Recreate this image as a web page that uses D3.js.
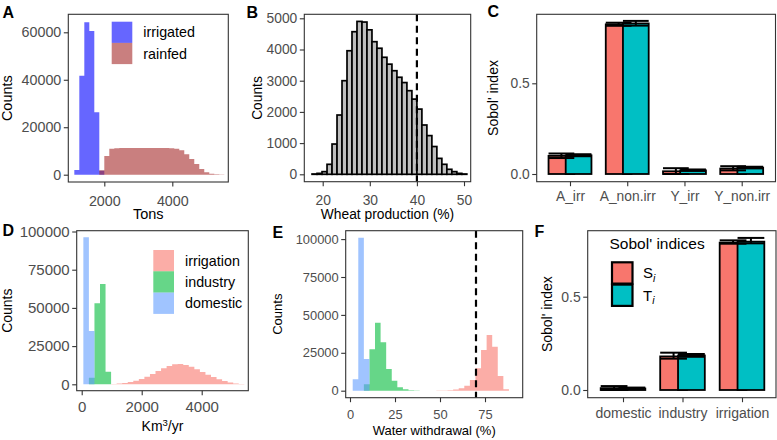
<!DOCTYPE html>
<html>
<head>
<meta charset="utf-8">
<script src="https://cdn.jsdelivr.net/npm/d3@7"></script>
<style>
  body { margin: 0; background: #fff; }
  svg { display: block; font-family: "Liberation Sans", Arial, Helvetica, sans-serif; }
</style>
</head>
<body>
<svg id="fig" width="777" height="440"></svg>
<script>
'use strict';

// ---- A: yield histogram (Tons), 30 bins of 147 starting at 1118
const A_BIN_START = 1118, A_BIN_WIDTH = 147;
const aIrrigated = [2000, 41700, 64200, 60600, 26300, 1700, 0, 0, 0, 0, 0, 0, 0, 0, 0,
                    0, 0, 0, 0, 0, 0, 0, 0, 0, 0, 0, 0, 0, 0, 0];
const aRainfed = [0, 0, 0, 0, 0, 1900, 7900, 10900, 11100, 11200, 11200, 11200, 11200, 11200, 11200,
                  11200, 11200, 11200, 11200, 11100, 10900, 10300, 8600, 6600, 4500, 2400, 1000, 400, 150, 50];
const aGroups = ['irrigated', 'rainfed'];

// ---- B: wheat production (%), 31 bins of 1.06 starting at 17.74
const B_BIN_START = 17.74, B_BIN_WIDTH = 1.06;
const bCounts = [10, 30, 85, 320, 970, 1900, 3000, 3960, 4570, 4900, 4880, 4630, 4250, 4040, 3750, 3530,
                 3320, 3110, 2940, 2680, 2410, 2090, 1580, 1240, 890, 510, 320, 160, 85, 30, 10];
const bThreshold = 40;

// ---- C: Sobol' indices of production
const cCats = ['A_irr', 'A_non.irr', 'Y_irr', 'Y_non.irr'];
const cSi = [0.100, 0.825, 0.015, 0.030];
const cSiLow = [0.088, 0.817, 0.000, 0.020];
const cSiHigh = [0.113, 0.834, 0.032, 0.043];
const cTi = [0.103, 0.830, 0.020, 0.035];
const cTiLow = [0.098, 0.818, 0.017, 0.031];
const cTiHigh = [0.109, 0.844, 0.025, 0.040];

// ---- D: water withdrawal (Km3/yr), 30 bins of 185 starting at 55
const D_BIN_START = 55, D_BIN_WIDTH = 185;
const dIrrigation = [0, 0, 0, 0, 0, 250, 500, 900, 1500, 2300, 3500, 5000, 6800, 8700, 10500,
                     12000, 13100, 13300, 12700, 11500, 9900, 8100, 6300, 4700, 3300, 2100, 1200, 600, 250, 100];
const dIndustry = [0, 4300, 53000, 65600, 8250, 0, 0, 0, 0, 0, 0, 0, 0, 0, 0,
                   0, 0, 0, 0, 0, 0, 0, 0, 0, 0, 0, 0, 0, 0, 0];
const dDomestic = [96200, 34900, 0, 0, 0, 0, 0, 0, 0, 0, 0, 0, 0, 0, 0,
                   0, 0, 0, 0, 0, 0, 0, 0, 0, 0, 0, 0, 0, 0, 0];
const sectors = ['irrigation', 'industry', 'domestic'];

// ---- E: water withdrawal (%), 28 bins of 3.1 starting at 1.5
const E_BIN_START = 1.5, E_BIN_WIDTH = 3.1;
const eIrrigation = [0, 0, 0, 0, 0, 0, 0, 0, 0, 0, 0, 0, 0, 20, 40,
                     80, 120, 350, 800, 1600, 3300, 7000, 14800, 26900, 36700, 29000, 9700, 900];
const eIndustry = [0, 0, 4200, 27300, 44900, 31900, 14300, 6600, 2200, 900, 300, 100, 40, 0, 0,
                   0, 0, 0, 0, 0, 0, 0, 0, 0, 0, 0, 0, 0];
const eDomestic = [7500, 100900, 20900, 0, 0, 0, 0, 0, 0, 0, 0, 0, 0, 0, 0,
                   0, 0, 0, 0, 0, 0, 0, 0, 0, 0, 0, 0, 0];
const eThreshold = 70;

// ---- F: Sobol' indices of water withdrawal
const fCats = ['domestic', 'industry', 'irrigation'];
const fSi = [0.010, 0.180, 0.790];
const fSiLow = [0.000, 0.168, 0.784];
const fSiHigh = [0.021, 0.200, 0.802];
const fTi = [0.008, 0.185, 0.795];
const fTiLow = [0.004, 0.178, 0.786];
const fTiHigh = [0.013, 0.193, 0.815];

(function () {
  const svg = d3.select('#fig');
  const TICK = 4.5;
  const TICK_GREY = '#4d4d4d';
  const FRAME = '#333333';
  const COL = {
    irrigated: '#0000ff', rainfed: '#a52a2a',
    irrigation: '#f8766d', industry: '#00ba38', domestic: '#619cff',
    si: '#f8766d', ti: '#00bfc4'
  };
  const HIST_ALPHA = 0.6;

  function makePanel(cfg) {
    const g = svg.append('g');
    const [x0, y0, x1, y1] = cfg.box;
    svg.append('clipPath').attr('id', 'clip-' + cfg.tag)
      .append('rect').attr('x', x0).attr('y', y0).attr('width', x1 - x0).attr('height', y1 - y0);
    const plot = g.append('g').attr('clip-path', `url(#clip-${cfg.tag})`);
    const y = d3.scaleLinear().domain(cfg.yDom).range(cfg.yRng);
    let x;
    if (cfg.cats) {
      x = d3.scalePoint().domain(cfg.cats).range(cfg.xRng);
    } else {
      x = d3.scaleLinear().domain(cfg.xDom).range(cfg.xRng);
    }
    return { cfg, g, plot, x, y };
  }

  function finishPanel(P) {
    const c = P.cfg;
    const [x0, y0, x1, y1] = c.box;

    const yAx = d3.axisLeft(P.y).tickValues(c.yTicks).tickFormat(c.yFmt)
      .tickSize(TICK).tickPadding(2.5);
    const gy = P.g.append('g').attr('transform', `translate(${x0},0)`).call(yAx);

    const xPad = c.xBase - y1 - TICK - 0.71 * c.tickFs;
    const xAx = d3.axisBottom(P.x).tickSize(TICK).tickPadding(xPad);
    if (c.xTicks) xAx.tickValues(c.xTicks).tickFormat(d3.format('d'));
    const gx = P.g.append('g').attr('transform', `translate(0,${y1})`).call(xAx);

    [gy, gx].forEach(a => {
      a.select('.domain').remove();
      a.attr('font-family', null).attr('font-size', c.tickFs);
      a.selectAll('line').attr('stroke', FRAME).attr('stroke-width', 1.1);
      a.selectAll('text').attr('fill', TICK_GREY);
    });

    P.g.append('rect')
      .attr('x', x0).attr('y', y0).attr('width', x1 - x0).attr('height', y1 - y0)
      .attr('fill', 'none').attr('stroke', FRAME).attr('stroke-width', 1.1);

    // y title
    P.g.append('text')
      .attr('transform', `translate(${c.yTitleX},${(y0 + y1) / 2}) rotate(-90)`)
      .attr('text-anchor', 'middle').attr('font-size', c.titleFs)
      .text(c.yTitle);

    // x title
    if (c.xTitle) {
      const t = P.g.append('text')
        .attr('x', (x0 + x1) / 2).attr('y', c.xTitleY)
        .attr('text-anchor', 'middle').attr('font-size', c.titleFs);
      c.xTitle(t);
    }

    // panel tag
    P.g.append('text')
      .attr('x', c.tagPos[0]).attr('y', c.tagPos[1])
      .attr('font-size', 16).attr('font-weight', 'bold')
      .text(c.tag);
  }

  // one stepped area per group, so neighbouring bins show no seams
  function histogram(P, counts, start, width, color) {
    const pts = counts.map((n, i) => ({ x: start + i * width, n }));
    pts.push({ x: start + counts.length * width, n: counts[counts.length - 1] });
    const area = d3.area()
      .curve(d3.curveStepAfter)
      .x(d => P.x(d.x))
      .y0(P.y(0))
      .y1(d => P.y(d.n));
    P.plot.append('path')
      .datum(pts)
      .attr('d', area)
      .attr('fill', color)
      .attr('fill-opacity', HIST_ALPHA);
  }

  function histLegend(P, items, kx, ky, kw, kh, fs) {
    const lg = P.g.append('g');
    items.forEach((name, i) => {
      lg.append('rect')
        .attr('x', kx).attr('y', ky + i * kh).attr('width', kw).attr('height', kh)
        .attr('fill', COL[name]).attr('fill-opacity', HIST_ALPHA);
      lg.append('text')
        .attr('x', kx + kw + 11).attr('y', ky + i * kh + kh / 2)
        .attr('dy', '0.35em').attr('font-size', fs)
        .text(name);
    });
  }

  function dashedLine(P, v) {
    P.plot.append('line')
      .attr('x1', P.x(v)).attr('x2', P.x(v))
      .attr('y1', P.cfg.box[1]).attr('y2', P.cfg.box[3])
      .attr('stroke', '#000').attr('stroke-width', 2.2)
      .attr('stroke-dasharray', '7,4.5');
  }

  function sobolBars(P, cats, si, siLo, siHi, ti, tiLo, tiHi) {
    const step = P.x.step();
    const bw = 0.45 * step;
    const off = 0.15 * step;
    const groups = [
      { key: 'si', val: si, lo: siLo, hi: siHi, dx: -off },
      { key: 'ti', val: ti, lo: tiLo, hi: tiHi, dx: off }
    ];
    groups.forEach(gr => {
      P.g.append('g').selectAll('rect')
        .data(cats.map((c, i) => ({ c, v: gr.val[i] })))
        .join('rect')
        .attr('x', d => P.x(d.c) + gr.dx - bw / 2)
        .attr('width', bw)
        .attr('y', d => P.y(d.v))
        .attr('height', d => P.y(0) - P.y(d.v))
        .attr('fill', COL[gr.key])
        .attr('stroke', '#000').attr('stroke-width', 1.8);
    });
    groups.forEach(gr => {
      const eg = P.g.append('g').attr('stroke', '#000').attr('stroke-width', 2);
      cats.forEach((c, i) => {
        const cx = P.x(c) + gr.dx;
        const yl = P.y(gr.lo[i]), yh = P.y(gr.hi[i]);
        eg.append('line').attr('x1', cx - bw / 2).attr('x2', cx + bw / 2).attr('y1', yh).attr('y2', yh);
        eg.append('line').attr('x1', cx - bw / 2).attr('x2', cx + bw / 2).attr('y1', yl).attr('y2', yl);
        eg.append('line').attr('x1', cx).attr('x2', cx).attr('y1', yl).attr('y2', yh);
      });
    });
  }

  const fmtInt = d3.format('d');
  const fmt1 = d3.format('.1f');
  const countTicks = [0, 25000, 50000, 75000, 100000];

  // ---------- A
  const A = makePanel({
    tag: 'A', box: [68.3, 14.3, 228.3, 182],
    xDom: [2000, 4000], xRng: [104.3, 172.3], yDom: [0, 60000], yRng: [174.7, 32.3],
    xTicks: [2000, 4000], yTicks: [0, 20000, 40000, 60000], yFmt: fmtInt,
    tickFs: 14.3, titleFs: 14.5, xBase: 205.5, yTitle: 'Counts', yTitleX: 12,
    xTitle: t => t.text('Tons'), xTitleY: 219, tagPos: [2.5, 18.3]
  });
  histogram(A, aIrrigated, A_BIN_START, A_BIN_WIDTH, COL.irrigated);
  histogram(A, aRainfed, A_BIN_START, A_BIN_WIDTH, COL.rainfed);
  finishPanel(A);
  histLegend(A, aGroups, 111.7, 21.7, 20.6, 21.2, 14.3);

  // ---------- B
  const B = makePanel({
    tag: 'B', box: [304.3, 14.3, 470.7, 181.7],
    xDom: [20, 50], xRng: [322.7, 464], yDom: [0, 5000], yRng: [174.3, 18.3],
    xTicks: [20, 30, 40, 50], yTicks: [0, 1000, 2000, 3000, 4000, 5000], yFmt: fmtInt,
    tickFs: 13.8, titleFs: 13.8, xBase: 205.5, yTitle: 'Counts', yTitleX: 261.5,
    xTitle: t => t.text('Wheat production (%)'), xTitleY: 219, tagPos: [246.5, 18.3]
  });
  B.plot.append('g').selectAll('rect')
    .data(bCounts.map((n, i) => ({ lo: B_BIN_START + i * B_BIN_WIDTH, hi: B_BIN_START + (i + 1) * B_BIN_WIDTH, n })))
    .join('rect')
    .attr('x', d => B.x(d.lo))
    .attr('width', d => B.x(d.hi) - B.x(d.lo))
    .attr('y', d => B.y(d.n))
    .attr('height', d => B.y(0) - B.y(d.n))
    .attr('fill', '#bebebe')
    .attr('stroke', '#000').attr('stroke-width', 1.7);
  dashedLine(B, bThreshold);
  finishPanel(B);

  // ---------- C
  const C = makePanel({
    tag: 'C', box: [536.7, 14.3, 775.5, 181.7],
    cats: cCats, xRng: [570, 741.7], yDom: [0, 0.5], yRng: [174, 83.3],
    yTicks: [0, 0.5], yFmt: fmt1,
    tickFs: 13.8, titleFs: 14, xBase: 201, yTitle: "Sobol' index", yTitleX: 498,
    tagPos: [487.5, 17.3]
  });
  sobolBars(C, cCats, cSi, cSiLow, cSiHigh, cTi, cTiLow, cTiHigh);
  finishPanel(C);

  // ---------- D
  const D = makePanel({
    tag: 'D', box: [76.7, 230.7, 248.3, 390.7],
    xDom: [0, 4000], xRng: [81.7, 201.7], yDom: [0, 100000], yRng: [384.3, 231.5],
    xTicks: [0, 2000, 4000], yTicks: countTicks, yFmt: fmtInt,
    tickFs: 15, titleFs: 14, xBase: 412, yTitle: 'Counts', yTitleX: 11.7,
    xTitle: t => {
      t.append('tspan').text('Km');
      t.append('tspan').attr('dy', -5).attr('font-size', 9.5).text('3');
      t.append('tspan').attr('dy', 5).text('/yr');
    },
    xTitleY: 431, tagPos: [2.5, 235.7]
  });
  histogram(D, dIrrigation, D_BIN_START, D_BIN_WIDTH, COL.irrigation);
  histogram(D, dIndustry, D_BIN_START, D_BIN_WIDTH, COL.industry);
  histogram(D, dDomestic, D_BIN_START, D_BIN_WIDTH, COL.domestic);
  finishPanel(D);
  histLegend(D, sectors, 153.3, 250, 20.7, 21.3, 14.3);

  // ---------- E
  const E = makePanel({
    tag: 'E', box: [345.7, 230.7, 522.7, 397.7],
    xDom: [0, 75], xRng: [350, 485], yDom: [0, 100000], yRng: [390.7, 239.1],
    xTicks: [0, 25, 50, 75], yTicks: countTicks, yFmt: fmtInt,
    tickFs: 12.9, titleFs: 13, xBase: 419, yTitle: 'Counts', yTitleX: 281.5,
    xTitle: t => t.text('Water withdrawal (%)'), xTitleY: 435, tagPos: [272.5, 238.3]
  });
  histogram(E, eIrrigation, E_BIN_START, E_BIN_WIDTH, COL.irrigation);
  histogram(E, eIndustry, E_BIN_START, E_BIN_WIDTH, COL.industry);
  histogram(E, eDomestic, E_BIN_START, E_BIN_WIDTH, COL.domestic);
  dashedLine(E, eThreshold);
  finishPanel(E);

  // ---------- F
  const F = makePanel({
    tag: 'F', box: [587.7, 230.7, 776, 397.7],
    cats: fCats, xRng: [623, 742], yDom: [0, 0.5], yRng: [390, 296.7],
    yTicks: [0, 0.5], yFmt: fmt1,
    tickFs: 14, titleFs: 14, xBase: 418.5, yTitle: "Sobol' index", yTitleX: 551.5,
    tagPos: [534.5, 236.7]
  });
  sobolBars(F, fCats, fSi, fSiLow, fSiHigh, fTi, fTiLow, fTiHigh);
  finishPanel(F);

  // F legend
  const lg = F.g.append('g');
  lg.append('text').attr('x', 609.5).attr('y', 249.3).attr('font-size', 15.5).text("Sobol' indices");
  [['si', 'S'], ['ti', 'T']].forEach(([key, letter], i) => {
    const ky = 262.3 + i * 22.3;
    lg.append('rect')
      .attr('x', 612).attr('y', ky).attr('width', 20.5).attr('height', 21.3)
      .attr('fill', COL[key]).attr('stroke', '#000').attr('stroke-width', 2.2);
    const t = lg.append('text').attr('x', 643).attr('y', ky + 16).attr('font-size', 15);
    t.append('tspan').text(letter);
    t.append('tspan').attr('dy', 3.5).attr('font-size', 10.5).attr('font-style', 'italic').text('i');
  });
})();
</script>
</body>
</html>
